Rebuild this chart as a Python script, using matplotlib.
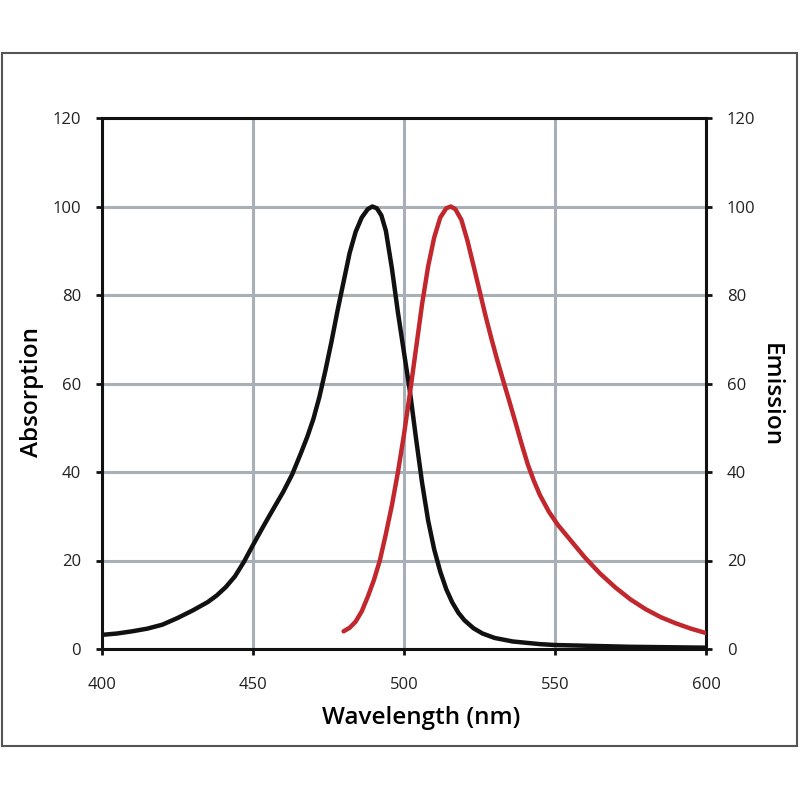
import numpy as np
import matplotlib.pyplot as plt
from matplotlib.patches import Rectangle

plt.rcParams['font.family'] = ['Open Sans', 'DejaVu Sans']

# absorption (black) curve
wl_abs = [400, 405, 410, 415, 420, 425, 430, 435, 438, 441, 444, 447, 450, 453, 456, 460,
          463, 466, 468, 470, 472, 474, 476, 478, 480, 482, 484, 486, 488, 489.5,
          491, 492.5, 494, 496, 498, 500, 502, 504, 506, 508, 510, 512, 514, 516,
          518, 520, 523, 526, 530, 536, 545, 550, 575, 600]
absorption = [3.2, 3.5, 4.0, 4.6, 5.5, 7.0, 8.7, 10.6, 12.1, 14.0, 16.4, 19.7, 23.5, 27.2, 30.8, 35.5,
              39.5, 44.5, 48, 52, 57, 63, 69.5, 76.5, 83, 89.5, 94.3, 97.5, 99.4, 100,
              99.6, 98, 94.5, 86, 76, 67, 58, 47.5, 37.5, 29, 22.5, 17.5, 13.5, 10.5,
              8.2, 6.5, 4.7, 3.5, 2.5, 1.7, 1.1, 0.9, 0.5, 0.3]

# emission (red) curve
wl_em = [480, 482, 484, 486, 488, 490, 492, 494, 496, 498, 500, 502, 504, 506, 508,
         510, 512, 514, 515.5, 517, 519, 521, 523, 525, 527, 529, 531, 533, 535, 537,
         539, 541, 543, 545, 548, 551, 555, 560, 565, 570, 575, 580, 585, 590, 595, 600]
emission = [4.0, 4.8, 6.2, 8.5, 11.8, 15.5, 20, 26, 32.5, 40, 48.5, 58, 68, 78, 86.5,
            93, 97.5, 99.6, 100, 99.4, 97, 92.3, 86.7, 81, 75.3, 70, 65, 60.3, 55.7, 51,
            46.2, 41.7, 38, 34.8, 31, 28, 24.7, 20.6, 17, 13.9, 11.2, 9, 7.2, 5.8, 4.6, 3.6]

x_ticks = [400, 450, 500, 550, 600]
y_ticks = [0, 20, 40, 60, 80, 100, 120]

fig = plt.figure(figsize=(8, 8), dpi=100)
ax = fig.add_axes([0.1275, 0.18875, 0.755, 0.66375])

# outer frame round the whole chart
fig.patches.append(Rectangle((0.002, 0.068), 0.994, 0.866, transform=fig.transFigure,
                             fill=False, edgecolor='#555555', linewidth=1.5))

ax.plot(wl_abs, absorption, color='#111111', linewidth=3.2, solid_capstyle='round',
        solid_joinstyle='round', zorder=3)
ax.plot(wl_em, emission, color='#c1272d', linewidth=3.2, solid_capstyle='round',
        solid_joinstyle='round', zorder=3)

ax.set_xlim(400, 600)
ax.set_ylim(0, 120)
ax.set_xticks(x_ticks)
ax.set_yticks(y_ticks)
ax.grid(True, color='#a8afb7', linewidth=2.2)
ax.set_axisbelow(True)
for s in ax.spines.values():
    s.set_linewidth(2.2)
    s.set_color('#111111')

ax.tick_params(axis='x', direction='out', length=4, width=2, labelsize=12, pad=16, colors='#111111')
ax.tick_params(axis='y', direction='out', length=4, width=2, labelsize=12, pad=11,
               right=True, labelright=True, colors='#111111')
for lbl in ax.get_yticklabels() + ax.get_xticklabels():
    lbl.set_color('#222222')

fig.text(0.04, 0.51, 'Absorption', rotation=90, ha='center', va='center',
         fontsize=17.5, fontweight='semibold')
fig.text(0.963, 0.506, 'Emission', rotation=270, ha='center', va='center',
         fontsize=17.5, fontweight='semibold')
fig.text(0.526, 0.103, 'Wavelength (nm)', ha='center', va='center',
         fontsize=17.5, fontweight='semibold')

fig.savefig('out.png', dpi=100)
